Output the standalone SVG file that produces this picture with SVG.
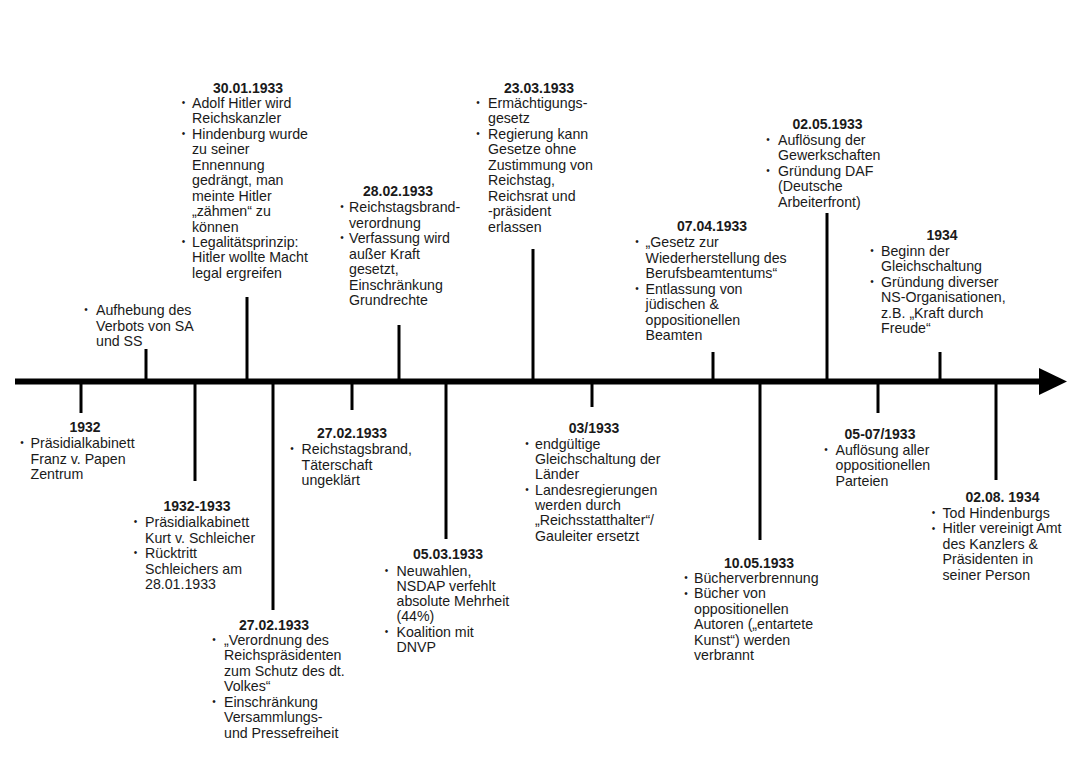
<svg xmlns="http://www.w3.org/2000/svg" width="1080" height="763" viewBox="0 0 1080 763">
<style>
text{font-family:"Liberation Sans",Arial,Helvetica,sans-serif;fill:#1a1a1a;}
.t{font-size:14px;font-weight:bold;text-anchor:middle;}
.b{font-size:14.2px;}
.d{font-size:10px;transform:translate(1.2px,-1.6px);}
.ax{stroke:#000;stroke-width:6;fill:none;}
.tk{stroke:#000;stroke-width:3;fill:none;}
</style>
<rect width="1080" height="763" fill="#fff"/>
<g id="connectors">
<line class="ax" x1="15" y1="381.5" x2="1042" y2="381.5"/>
<polygon points="1039,368 1067,381.5 1039,395" fill="#000"/>
<line class="tk" x1="146" y1="349" x2="146" y2="381"/>
<line class="tk" x1="247" y1="297" x2="247" y2="381"/>
<line class="tk" x1="399" y1="325" x2="399" y2="381"/>
<line class="tk" x1="533" y1="249" x2="533" y2="381"/>
<line class="tk" x1="713" y1="352" x2="713" y2="381"/>
<line class="tk" x1="827" y1="213" x2="827" y2="381"/>
<line class="tk" x1="940" y1="352" x2="940" y2="381"/>
<line class="tk" x1="81" y1="382" x2="81" y2="413"/>
<line class="tk" x1="195" y1="382" x2="195" y2="481"/>
<line class="tk" x1="273" y1="382" x2="273" y2="610"/>
<line class="tk" x1="352" y1="382" x2="352" y2="410"/>
<line class="tk" x1="446" y1="382" x2="446" y2="539"/>
<line class="tk" x1="592" y1="382" x2="592" y2="407"/>
<line class="tk" x1="760" y1="382" x2="760" y2="540"/>
<line class="tk" x1="878" y1="382" x2="878" y2="413"/>
<line class="tk" x1="996" y1="382" x2="996" y2="480"/>
</g>
<g id="e-30-01-1933">
<text class="t" x="248" y="92.5">30.01.1933</text>
<text class="d" x="180.5" y="107.5">•</text>
<text class="d" x="180.5" y="138.5">•</text>
<text class="d" x="180.5" y="246.5">•</text>
<text class="b"><tspan x="192" y="107.5">Adolf Hitler wird</tspan><tspan x="192" y="123">Reichskanzler</tspan><tspan x="192" y="138.5">Hindenburg wurde</tspan><tspan x="192" y="154">zu seiner</tspan><tspan x="192" y="169.5">Ennennung</tspan><tspan x="192" y="185">gedrängt, man</tspan><tspan x="192" y="200.5">meinte Hitler</tspan><tspan x="192" y="216">„zähmen“ zu</tspan><tspan x="192" y="231.5">können</tspan><tspan x="192" y="246.5">Legalitätsprinzip:</tspan><tspan x="192" y="262">Hitler wollte Macht</tspan><tspan x="192" y="277.5">legal ergreifen</tspan></text>
</g>
<g id="e-sa-ss">
<text class="d" x="83" y="315">•</text>
<text class="b"><tspan x="96" y="315">Aufhebung des</tspan><tspan x="96" y="330.5">Verbots von SA</tspan><tspan x="96" y="346">und SS</tspan></text>
</g>
<g id="e-28-02-1933">
<text class="t" x="398" y="196">28.02.1933</text>
<text class="d" x="339" y="212">•</text>
<text class="d" x="339" y="243">•</text>
<text class="b"><tspan x="349" y="212">Reichstagsbrand-</tspan><tspan x="349" y="227.5">verordnung</tspan><tspan x="349" y="243">Verfassung wird</tspan><tspan x="349" y="258.5">außer Kraft</tspan><tspan x="349" y="274">gesetzt,</tspan><tspan x="349" y="289.5">Einschränkung</tspan><tspan x="349" y="305">Grundrechte</tspan></text>
</g>
<g id="e-23-03-1933">
<text class="t" x="539" y="92.5">23.03.1933</text>
<text class="d" x="475" y="107.5">•</text>
<text class="d" x="475" y="138.5">•</text>
<text class="b"><tspan x="488" y="107.5">Ermächtigungs-</tspan><tspan x="488" y="123">gesetz</tspan><tspan x="488" y="138.5">Regierung kann</tspan><tspan x="488" y="154">Gesetze ohne</tspan><tspan x="488" y="169.5">Zustimmung von</tspan><tspan x="488" y="185">Reichstag,</tspan><tspan x="488" y="200.5">Reichsrat und</tspan><tspan x="488" y="216">-präsident</tspan><tspan x="488" y="231.5">erlassen</tspan></text>
</g>
<g id="e-07-04-1933">
<text class="t" x="712" y="231">07.04.1933</text>
<text class="d" x="634" y="247">•</text>
<text class="d" x="634" y="293.5">•</text>
<text class="b"><tspan x="645.5" y="247">„Gesetz zur</tspan><tspan x="645.5" y="262.5">Wiederherstellung des</tspan><tspan x="645.5" y="278">Berufsbeamtentums“</tspan><tspan x="645.5" y="293.5">Entlassung von</tspan><tspan x="645.5" y="309">jüdischen &amp;</tspan><tspan x="645.5" y="324.5">oppositionellen</tspan><tspan x="645.5" y="340">Beamten</tspan></text>
</g>
<g id="e-02-05-1933">
<text class="t" x="827.5" y="129">02.05.1933</text>
<text class="d" x="765" y="144.5">•</text>
<text class="d" x="765" y="175.5">•</text>
<text class="b"><tspan x="778" y="144.5">Auflösung der</tspan><tspan x="778" y="160">Gewerkschaften</tspan><tspan x="778" y="175.5">Gründung DAF</tspan><tspan x="778" y="191">(Deutsche</tspan><tspan x="778" y="206.5">Arbeiterfront)</tspan></text>
</g>
<g id="e-1934">
<text class="t" x="942" y="240">1934</text>
<text class="d" x="869" y="255.5">•</text>
<text class="d" x="869" y="286.5">•</text>
<text class="b"><tspan x="881" y="255.5">Beginn der</tspan><tspan x="881" y="271">Gleichschaltung</tspan><tspan x="881" y="286.5">Gründung diverser</tspan><tspan x="881" y="302">NS-Organisationen,</tspan><tspan x="881" y="317.5">z.B. „Kraft durch</tspan><tspan x="881" y="333">Freude“</tspan></text>
</g>
<g id="e-1932">
<text class="t" x="85" y="432">1932</text>
<text class="d" x="19" y="448">•</text>
<text class="b"><tspan x="30.5" y="448">Präsidialkabinett</tspan><tspan x="30.5" y="463.5">Franz v. Papen</tspan><tspan x="30.5" y="479">Zentrum</tspan></text>
</g>
<g id="e-1932-1933">
<text class="t" x="197" y="511">1932-1933</text>
<text class="d" x="132.5" y="527">•</text>
<text class="d" x="132.5" y="558">•</text>
<text class="b"><tspan x="145" y="527">Präsidialkabinett</tspan><tspan x="145" y="542.5">Kurt v. Schleicher</tspan><tspan x="145" y="558">Rücktritt</tspan><tspan x="145" y="573.5">Schleichers am</tspan><tspan x="145" y="589">28.01.1933</tspan></text>
</g>
<g id="e-27-02-1933-verordnung">
<text class="t" x="274" y="629.5">27.02.1933</text>
<text class="d" x="211" y="644.5">•</text>
<text class="d" x="211" y="706.5">•</text>
<text class="b"><tspan x="224" y="644.5">„Verordnung des</tspan><tspan x="224" y="660">Reichspräsidenten</tspan><tspan x="224" y="675.5">zum Schutz des dt.</tspan><tspan x="224" y="691">Volkes“</tspan><tspan x="224" y="706.5">Einschränkung</tspan><tspan x="224" y="722">Versammlungs-</tspan><tspan x="224" y="737.5">und Pressefreiheit</tspan></text>
</g>
<g id="e-27-02-1933-brand">
<text class="t" x="352" y="438">27.02.1933</text>
<text class="d" x="289" y="454">•</text>
<text class="b"><tspan x="301.5" y="454">Reichstagsbrand,</tspan><tspan x="301.5" y="469.5">Täterschaft</tspan><tspan x="301.5" y="485">ungeklärt</tspan></text>
</g>
<g id="e-05-03-1933">
<text class="t" x="448" y="559">05.03.1933</text>
<text class="d" x="383.5" y="575.5">•</text>
<text class="d" x="383.5" y="636.5">•</text>
<text class="b"><tspan x="396.5" y="575.5">Neuwahlen,</tspan><tspan x="396.5" y="590.7">NSDAP verfehlt</tspan><tspan x="396.5" y="605.9">absolute Mehrheit</tspan><tspan x="396.5" y="621.1">(44%)</tspan><tspan x="396.5" y="636.5">Koalition mit</tspan><tspan x="396.5" y="651.7">DNVP</tspan></text>
</g>
<g id="e-03-1933">
<text class="t" x="594" y="432.5">03/1933</text>
<text class="d" x="524" y="448.5">•</text>
<text class="d" x="524" y="494.5">•</text>
<text class="b"><tspan x="535" y="448.5">endgültige</tspan><tspan x="535" y="463.9">Gleichschaltung der</tspan><tspan x="535" y="479.3">Länder</tspan><tspan x="535" y="494.5">Landesregierungen</tspan><tspan x="535" y="509.9">werden durch</tspan><tspan x="535" y="525.3">„Reichsstatthalter“/</tspan><tspan x="535" y="540.7">Gauleiter ersetzt</tspan></text>
</g>
<g id="e-10-05-1933">
<text class="t" x="759" y="568">10.05.1933</text>
<text class="d" x="683" y="583">•</text>
<text class="d" x="683" y="598.4">•</text>
<text class="b"><tspan x="694" y="583">Bücherverbrennung</tspan><tspan x="694" y="598.4">Bücher von</tspan><tspan x="694" y="613.8">oppositionellen</tspan><tspan x="694" y="629.2">Autoren („entartete</tspan><tspan x="694" y="644.6">Kunst“) werden</tspan><tspan x="694" y="660">verbrannt</tspan></text>
</g>
<g id="e-05-07-1933">
<text class="t" x="880" y="438.5">05-07/1933</text>
<text class="d" x="823" y="455">•</text>
<text class="b"><tspan x="835.5" y="455">Auflösung aller</tspan><tspan x="835.5" y="470.4">oppositionellen</tspan><tspan x="835.5" y="485.8">Parteien</tspan></text>
</g>
<g id="e-02-08-1934">
<text class="t" x="1002.5" y="502">02.08. 1934</text>
<text class="d" x="930.5" y="518">•</text>
<text class="d" x="930.5" y="533.4">•</text>
<text class="b"><tspan x="942.5" y="518">Tod Hindenburgs</tspan><tspan x="942.5" y="533.4">Hitler vereinigt Amt</tspan><tspan x="942.5" y="548.8">des Kanzlers &amp;</tspan><tspan x="942.5" y="564.2">Präsidenten in</tspan><tspan x="942.5" y="579.6">seiner Person</tspan></text>
</g>
</svg>
